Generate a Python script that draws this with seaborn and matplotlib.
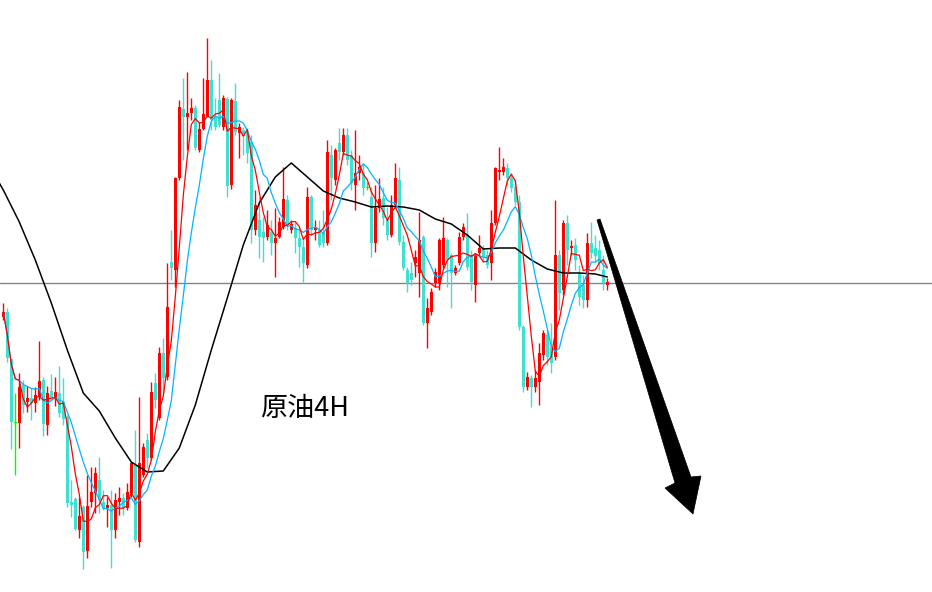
import matplotlib
matplotlib.use("Agg")
import matplotlib.pyplot as plt
import numpy as np
import pandas as pd
import seaborn as sns
from matplotlib.patches import Polygon

# 4H crude oil candles (price units)
opens = [68.3, 68.8, 64.1, 57.7, 57.7, 61.5, 59.8, 60.2, 59.7, 60.3,
         62.0, 57.5, 60.9, 60.1, 60.7, 59.8, 58.3, 49.8, 50.1, 47.0,
         49.3, 44.9, 49.8, 50.7, 52.0, 49.8, 49.2, 49.5, 47.0, 49.8,
         50.2, 49.2, 50.7, 53.5, 45.8, 52.5, 56.0, 54.2, 61.7, 58.2,
         64.7, 62.3, 73.8, 73.0, 82.2, 89.1, 88.3, 88.7, 89.2, 85.0,
         87.1, 88.4, 92.0, 88.3, 90.0, 87.3, 90.1, 81.5, 89.9, 86.7,
         87.0, 86.8, 85.8, 77.0, 78.0, 76.8, 76.3, 76.8, 75.7, 76.3,
         77.3, 80.0, 77.0, 77.2, 76.2, 75.3, 73.5, 80.3, 77.0, 77.0,
         76.7, 75.7, 84.5, 82.0, 85.7, 84.8, 86.5, 84.5, 81.5, 82.7,
         82.7, 81.2, 80.3, 75.7, 79.2, 80.2, 78.0, 76.5, 79.5, 82.0,
         75.8, 73.0, 72.7, 73.7, 72.7, 76.3, 67.7, 68.8, 71.7, 71.7,
         73.5, 76.0, 74.5, 72.7, 73.7, 76.3, 76.5, 74.5, 71.5, 74.7,
         75.2, 74.5, 73.7, 77.7, 82.8, 82.8, 83.2, 82.2, 81.3, 79.8,
         67.3, 61.3, 62.2, 61.3, 61.8, 64.5, 66.5, 65.3, 64.3, 74.5,
         71.0, 77.7, 75.2, 75.5, 72.7, 71.5, 70.0, 75.7, 75.2, 75.0,
         73.0, 71.5]
closes = [68.8, 64.2, 57.8, 57.7, 61.3, 59.5, 60.2, 59.7, 60.5, 61.9,
          57.6, 60.7, 60.2, 60.8, 58.7, 58.1, 49.7, 49.5, 47.1, 48.4,
          44.8, 49.4, 50.8, 52.7, 50.0, 49.2, 49.5, 47.0, 50.0, 50.2,
          49.2, 50.8, 53.7, 46.0, 53.7, 55.3, 54.2, 60.8, 60.0, 64.7,
          62.2, 69.3, 73.2, 82.2, 89.3, 88.3, 88.7, 89.2, 85.2, 87.1,
          88.6, 92.0, 88.0, 87.3, 87.5, 90.2, 81.4, 90.0, 86.8, 87.3,
          86.4, 84.7, 77.0, 79.5, 76.3, 76.2, 77.5, 75.7, 76.2, 77.8,
          80.1, 77.5, 77.6, 76.2, 75.3, 73.7, 80.3, 77.0, 77.3, 75.5,
          75.7, 84.8, 82.2, 85.0, 84.8, 86.5, 84.0, 81.7, 82.7, 83.3,
          81.2, 81.2, 75.7, 79.2, 80.1, 78.2, 76.5, 79.5, 82.2, 75.8,
          73.2, 71.7, 72.0, 74.3, 76.0, 67.7, 69.2, 70.8, 72.8, 76.0,
          76.2, 74.0, 72.7, 73.2, 76.3, 77.3, 73.3, 71.8, 74.5, 75.2,
          74.3, 73.5, 77.7, 83.2, 83.0, 83.3, 82.2, 81.2, 79.8, 67.3,
          61.3, 62.3, 61.3, 62.2, 64.7, 66.7, 64.3, 63.7, 74.5, 70.7,
          77.7, 75.0, 75.4, 74.0, 70.3, 70.0, 75.7, 74.7, 74.4, 73.7,
          71.7, 71.8]
highs = [69.7, 69.2, 64.1, 60.7, 62.7, 62.0, 61.4, 61.2, 61.3, 65.9,
         62.3, 61.4, 62.6, 62.3, 63.4, 62.2, 58.5, 52.0, 50.3, 50.3,
         49.5, 52.5, 53.3, 53.3, 54.3, 51.0, 50.3, 51.0, 50.7, 51.3,
         50.7, 51.7, 53.8, 57.0, 60.3, 55.7, 56.7, 61.8, 62.7, 65.3,
         66.2, 73.7, 77.0, 82.3, 90.0, 92.2, 92.8, 90.2, 89.5, 87.8,
         92.2, 96.2, 94.0, 90.2, 92.7, 90.5, 90.3, 90.2, 91.7, 87.7,
         87.3, 87.2, 86.5, 81.0, 80.3, 78.3, 79.0, 78.0, 79.2, 78.3,
         83.3, 80.5, 78.0, 77.8, 77.0, 76.2, 81.3, 80.5, 78.0, 78.0,
         79.0, 86.0, 85.5, 85.2, 87.2, 87.2, 87.2, 85.0, 87.0, 84.5,
         83.7, 81.8, 81.3, 81.5, 82.2, 81.3, 79.3, 80.5, 83.7, 83.3,
         76.5, 73.3, 73.8, 75.0, 78.8, 76.5, 70.2, 71.2, 73.2, 76.2,
         78.3, 76.2, 74.7, 73.5, 76.8, 77.7, 78.7, 75.0, 74.7, 76.5,
         75.5, 75.0, 79.0, 83.3, 85.3, 84.2, 83.7, 82.7, 82.0, 80.5,
         67.5, 62.8, 62.5, 63.0, 65.7, 67.0, 67.0, 67.7, 80.0, 75.0,
         78.0, 78.5, 76.0, 76.2, 73.5, 72.5, 76.7, 77.8, 76.5, 76.0,
         74.5, 72.2]
lows = [68.0, 63.8, 55.1, 52.5, 55.2, 58.7, 58.8, 58.0, 58.8, 60.0,
        56.4, 56.5, 60.0, 59.4, 58.3, 57.5, 49.3, 48.3, 47.0, 46.2,
        43.1, 44.2, 49.3, 48.7, 48.7, 49.0, 47.3, 43.2, 46.2, 48.5,
        48.5, 49.0, 50.3, 45.8, 45.3, 52.3, 53.2, 54.0, 59.2, 58.0,
        60.7, 62.0, 72.0, 71.3, 82.0, 84.0, 85.0, 88.0, 85.0, 84.8,
        87.0, 88.3, 87.0, 87.0, 87.3, 87.0, 80.3, 81.1, 86.5, 84.2,
        84.5, 83.7, 75.7, 76.5, 74.2, 73.8, 76.0, 74.5, 72.3, 76.2,
        77.1, 77.0, 76.7, 74.7, 73.3, 71.8, 73.2, 76.5, 76.0, 75.3,
        75.3, 75.5, 80.0, 81.5, 84.0, 84.5, 83.5, 81.0, 79.0, 82.0,
        80.5, 81.0, 74.3, 74.8, 78.8, 77.5, 76.0, 76.3, 79.2, 75.5,
        73.0, 70.8, 71.5, 72.3, 70.3, 67.5, 65.2, 68.5, 71.3, 71.0,
        73.2, 71.3, 69.2, 72.5, 73.5, 76.0, 73.0, 71.0, 69.8, 74.5,
        73.8, 73.2, 72.0, 77.5, 82.0, 82.5, 81.5, 80.8, 79.5, 67.0,
        60.8, 61.0, 59.3, 60.8, 59.5, 64.0, 63.5, 62.7, 64.0, 69.0,
        70.5, 73.5, 74.5, 73.0, 69.5, 69.2, 69.3, 74.2, 73.8, 73.0,
        71.0, 71.0]

# long moving average (black), read every 4 bars (plus the bar before the window)
ma_long_idx = [-1] + list(range(0, 149, 4)) + [151]
ma_long = [81.7, 81.0, 77.8, 74.0, 69.7, 65.0, 60.7, 58.9, 56.2, 53.8, 52.8,
           52.9, 55.2, 59.5, 65.0, 70.2, 75.5, 79.7, 82.3, 83.7, 82.3,
           80.9, 80.2, 79.8, 79.3, 79.4, 79.3, 79.0, 78.1, 77.6, 76.5,
           75.1, 75.2, 75.2, 74.0, 73.1, 72.7, 72.7, 72.6, 72.3]

ref_level = 71.7
label = "原油4H"

UP, DOWN, DOJI = "#ff0000", "#40e0d0", "#00ff00"

sns.set_theme(style="white")
plt.rcParams["font.family"] = ["Noto Sans CJK SC", "DejaVu Sans"]

W, H = 932, 592
fig = plt.figure(figsize=(W / 100, H / 100), dpi=100)
ax = fig.add_axes([0, 0, 1, 1])
ax.set_axis_off()

df = pd.DataFrame({"o": opens, "c": closes, "h": highs, "l": lows})
df["i"] = np.arange(len(df))
df["color"] = np.where(df.c > df.o, UP, np.where(df.c < df.o, DOWN, DOJI))
df["ma5"] = df.c.rolling(5, min_periods=1).mean()
df["ma10"] = df.c.rolling(10, min_periods=1).mean()

ax.axhline(ref_level, color="#7d8690", lw=1.0, zorder=1)

ax.vlines(df.i, df.l, df.h, colors=df.color, lw=1.0, zorder=2)
body_lo = np.minimum(df.o, df.c)
body_h = np.maximum((df.o - df.c).abs(), 0.12)
ax.bar(df.i, body_h, bottom=body_lo, width=0.62, color=df.color,
       linewidth=0, zorder=3)

sns.lineplot(x=ma_long_idx, y=ma_long, ax=ax, color="black", lw=1.1,
             sort=False, estimator=None, legend=False, zorder=4)
sns.lineplot(data=df, x="i", y="ma10", ax=ax, color="#00b4ff", lw=0.9,
             sort=False, estimator=None, legend=False, zorder=5)
sns.lineplot(data=df, x="i", y="ma5", ax=ax, color="#ff0000", lw=0.9,
             sort=False, estimator=None, legend=False, zorder=6)

# one bar every 4 px, first bar at x=3.3 px; price = 100 - y/10
ax.set_xlim(-3.3 / 4, (W - 3.3) / 4)
ax.set_ylim(100 - H / 10, 100)

ax.text(305 / W, 1 - 408 / H, label, transform=ax.transAxes,
        ha="center", va="center", fontsize=19.5, color="black")

# hand-drawn down arrow (pixel outline)
arrow_px = [(597, 220), (600, 219), (691, 477), (701, 476), (693, 514),
            (665, 488), (675, 483)]
arrow = Polygon([(x / W, 1 - y / H) for x, y in arrow_px], closed=True,
                transform=fig.transFigure, facecolor="black",
                edgecolor="black", lw=0.5, zorder=10)
fig.patches.append(arrow)

fig.savefig("out.png", dpi=100, facecolor="white")
